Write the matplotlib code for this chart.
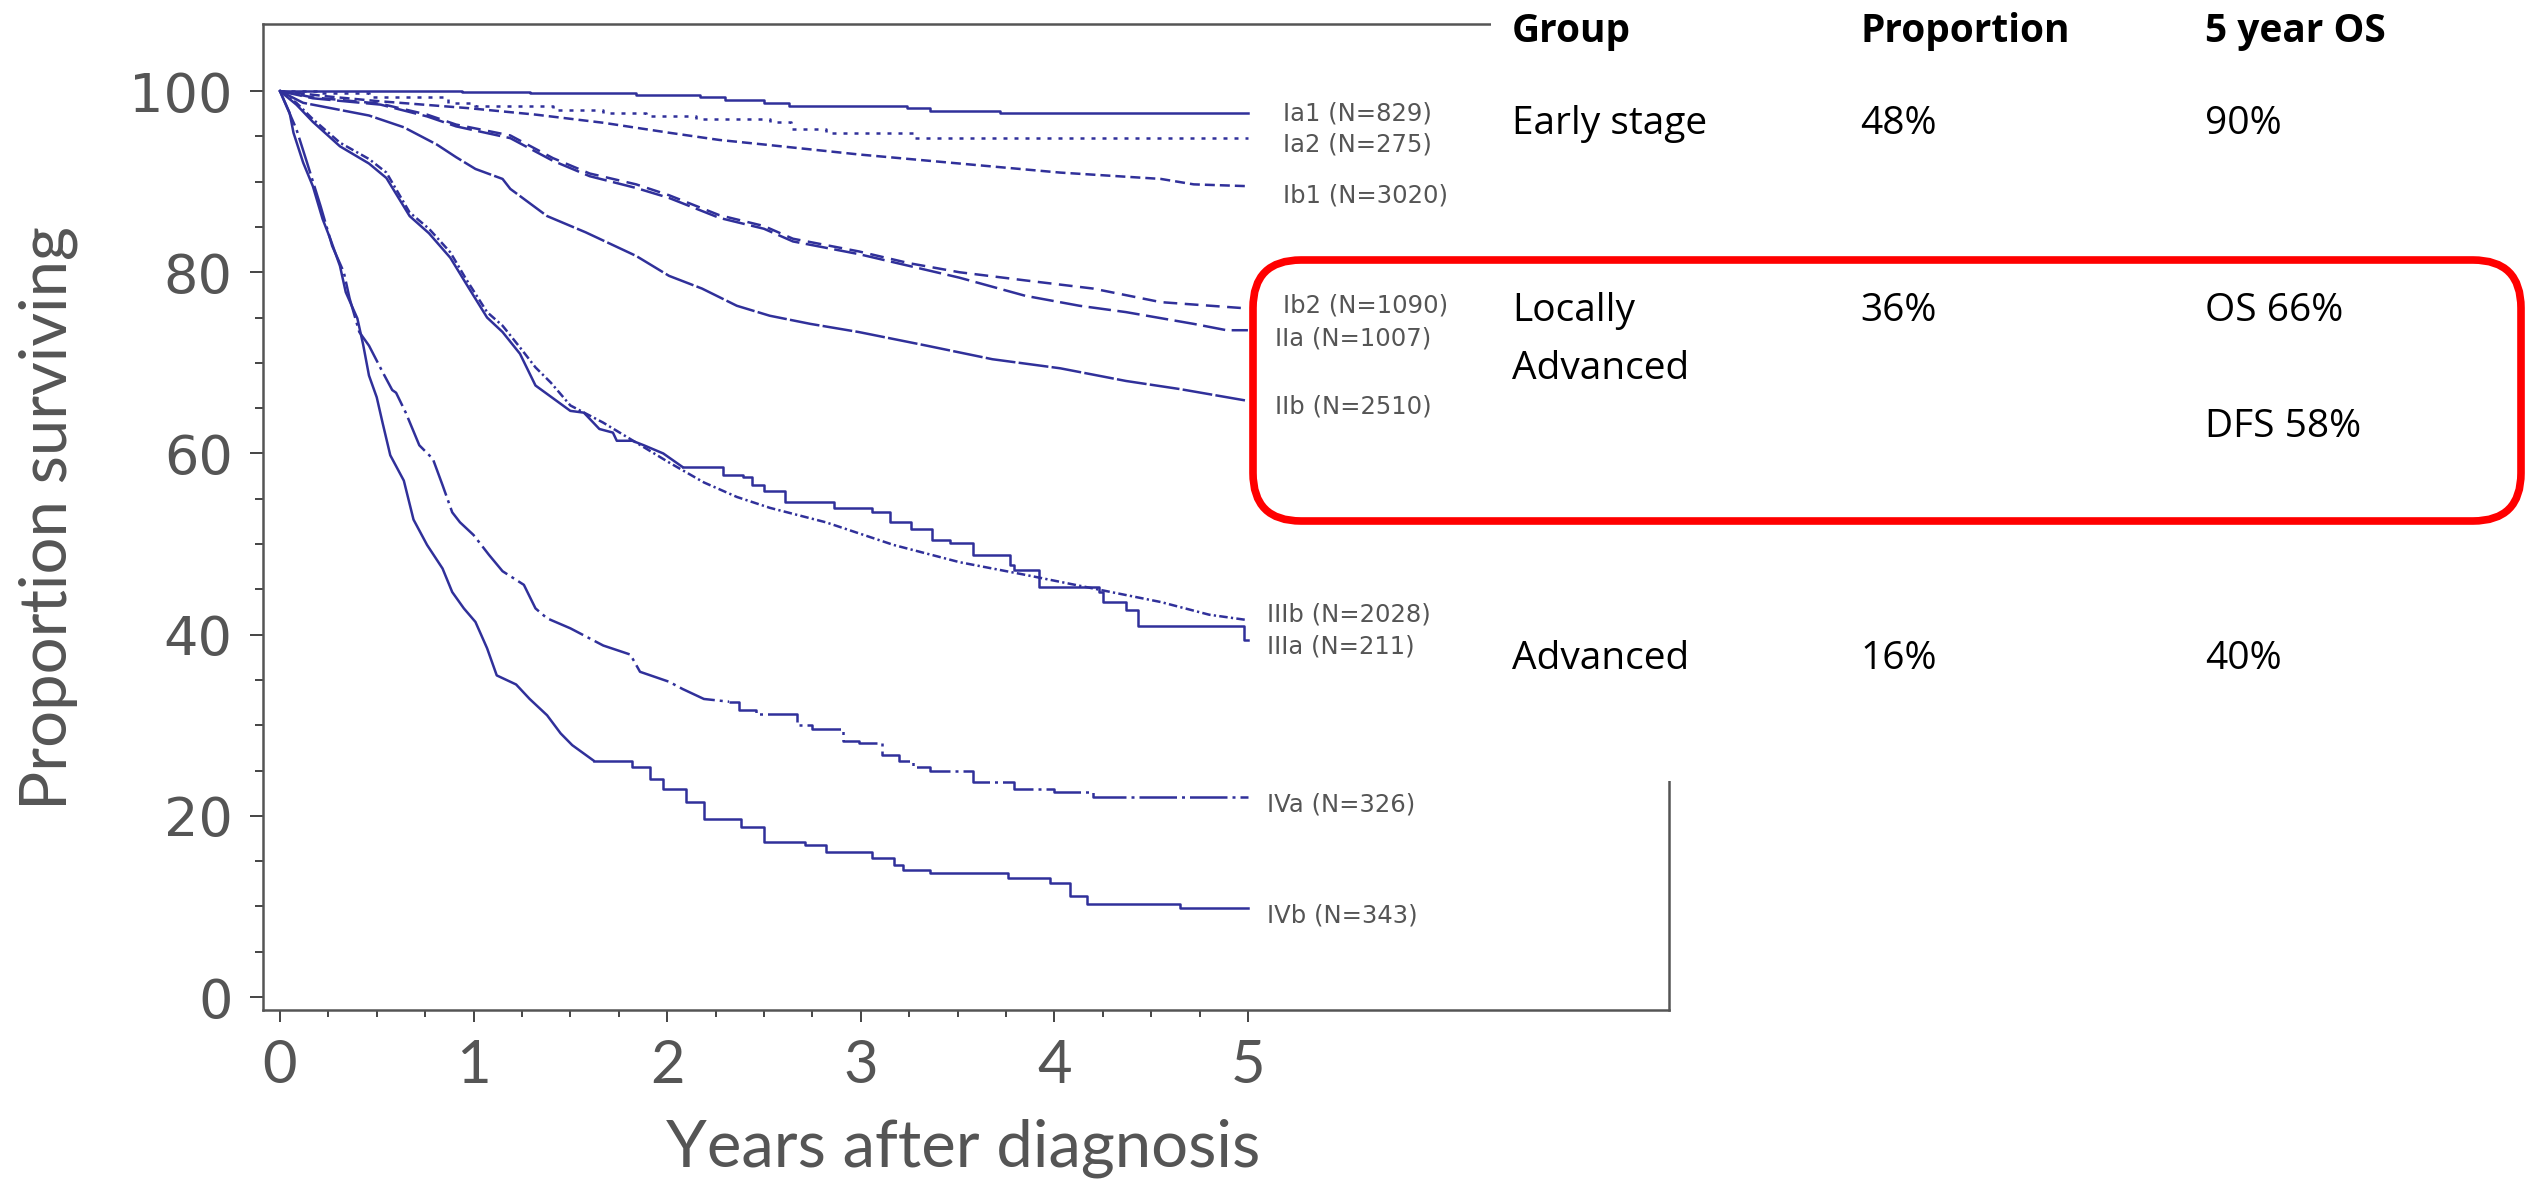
import numpy as np
import matplotlib
matplotlib.use("Agg")
import matplotlib.pyplot as plt
from matplotlib.patches import Rectangle, FancyBboxPatch
from matplotlib.transforms import Affine2D

# Kaplan-Meier curves by FIGO stage, years vs % surviving
ia1_t = [0, 0.94, 1.29, 1.84, 2.17, 2.30, 2.50, 2.63, 3.24, 3.36, 3.72, 5.0]
ia1_s = [100, 99.9, 99.75, 99.6, 99.3, 99.0, 98.7, 98.4, 98.1, 97.8, 97.6, 97.6]

ia2_t = [0, 0.20, 0.46, 0.87, 1.01, 1.41, 1.67, 1.89, 2.15, 2.53, 2.64, 2.82, 3.27, 5.0]
ia2_s = [100, 99.8, 99.3, 98.7, 98.4, 97.9, 97.6, 97.3, 96.9, 96.6, 95.8, 95.4, 94.8, 94.8]

ib1_t = [0, 0.25, 0.50, 0.98, 1.32, 1.67, 2.01, 2.27, 2.50, 2.99, 3.51, 4.03, 4.55, 4.72, 5.0]
ib1_s = [100, 99.4, 98.9, 98.1, 97.4, 96.5, 95.4, 94.6, 94.1, 93.0, 92.0, 91.0, 90.3, 89.7, 89.5]

ib2_t = [0, 0.17, 0.52, 0.76, 0.91, 1.19, 1.41, 1.60, 1.84, 2.01, 2.27, 2.50, 2.65, 2.99,
         3.25, 3.51, 3.85, 4.20, 4.55, 5.0]
ib2_s = [100, 99.3, 98.6, 97.4, 96.3, 95.1, 92.6, 90.9, 89.7, 88.5, 86.3, 85.1, 83.7, 82.3,
         81.0, 80.0, 79.1, 78.2, 76.7, 76.0]

iia_t = [0, 0.17, 0.52, 0.76, 0.91, 1.19, 1.41, 1.60, 1.84, 2.01, 2.27, 2.50, 2.65, 2.99,
         3.25, 3.51, 3.85, 4.13, 4.37, 4.72, 4.89, 5.0]
iia_s = [100, 99.2, 98.5, 97.2, 96.1, 94.8, 92.3, 90.6, 89.3, 88.2, 86.0, 84.8, 83.4, 82.0,
         80.7, 79.4, 77.4, 76.3, 75.6, 74.3, 73.6, 73.6]

iib_t = [0, 0.12, 0.29, 0.46, 0.64, 0.81, 0.91, 1.01, 1.15, 1.19, 1.38, 1.58, 1.84, 2.01,
         2.18, 2.36, 2.53, 2.74, 2.99, 3.34, 3.68, 4.03, 4.37, 4.65, 5.0]
iib_s = [100, 98.7, 98.0, 97.3, 96.0, 94.1, 92.7, 91.4, 90.3, 89.2, 86.2, 84.4, 81.8, 79.6,
         78.2, 76.3, 75.2, 74.3, 73.4, 71.9, 70.4, 69.4, 68.0, 67.1, 65.8]

iiib_t = [0, 0.085, 0.17, 0.31, 0.46, 0.55, 0.67, 0.77, 0.88, 0.96, 1.07, 1.15, 1.24, 1.32,
          1.40, 1.50, 1.67, 1.84, 2.01, 2.19, 2.36, 2.53, 2.82, 3.17, 3.51, 3.85, 4.20,
          4.55, 4.80, 5.0]
iiib_s = [100, 98.7, 96.9, 94.3, 92.5, 91.0, 86.6, 84.8, 82.2, 79.3, 75.6, 74.1, 71.7, 69.5,
          67.8, 65.3, 63.4, 61.2, 59.0, 56.8, 55.2, 54.0, 52.4, 49.9, 48.0, 46.6, 45.1,
          43.6, 42.2, 41.6]

# dense early part drawn as a line, sparse later part as steps
iiia_t = [0, 0.085, 0.17, 0.31, 0.46, 0.55, 0.67, 0.77, 0.88, 0.96, 1.07, 1.15, 1.24, 1.32,
          1.50, 1.57, 1.65, 1.72, 1.74, 1.82, 1.88, 1.98, 2.08]
iiia_s = [100, 98.5, 96.6, 93.9, 92.0, 90.4, 86.2, 84.3, 81.6, 78.8, 75.0, 73.4, 71.0, 67.5,
          64.7, 64.5, 62.7, 62.3, 61.4, 61.4, 60.9, 60.0, 58.5]
iiia_late_t = [2.08, 2.29, 2.39, 2.44, 2.50, 2.61, 2.86, 3.06, 3.15, 3.26, 3.37, 3.46, 3.58,
               3.77, 3.79, 3.92, 4.23, 4.25, 4.37, 4.43, 4.98, 5.0]
iiia_late_s = [58.5, 57.6, 57.4, 56.5, 55.8, 54.6, 54.0, 53.5, 52.4, 51.7, 50.4, 50.1, 48.8,
               47.7, 47.1, 45.3, 44.7, 43.6, 42.7, 40.9, 39.4, 39.4]

iva_t = [0, 0.085, 0.14, 0.21, 0.27, 0.33, 0.36, 0.41, 0.46, 0.53, 0.58, 0.60, 0.65, 0.72,
         0.79, 0.84, 0.89, 0.93, 1.00, 1.08, 1.15, 1.26, 1.32, 1.38, 1.50, 1.67, 1.81, 1.86,
         2.01, 2.08, 2.19, 2.32]
iva_s = [100, 95.8, 92.1, 87.3, 82.9, 80.0, 77.1, 73.4, 71.9, 69.0, 67.0, 66.7, 64.5, 60.9,
         59.4, 56.5, 53.5, 52.4, 51.0, 48.8, 47.0, 45.5, 42.9, 41.8, 40.7, 38.8, 37.8, 35.9,
         34.8, 34.0, 32.9, 32.6]
iva_late_t = [2.32, 2.37, 2.46, 2.67, 2.75, 2.91, 2.99, 3.11, 3.20, 3.27, 3.36, 3.58, 3.79,
              4.00, 4.20, 5.0]
iva_late_s = [32.6, 31.7, 31.2, 30.0, 29.6, 28.3, 28.0, 26.7, 26.0, 25.4, 24.9, 23.7, 23.0,
              22.6, 22.1, 22.1]

ivb_t = [0, 0.05, 0.07, 0.12, 0.17, 0.22, 0.26, 0.31, 0.34, 0.40, 0.43, 0.46, 0.50, 0.53,
         0.57, 0.64, 0.69, 0.76, 0.84, 0.89, 0.95, 1.01, 1.07, 1.12, 1.22, 1.29, 1.38, 1.45,
         1.51, 1.62]
ivb_s = [100, 97.6, 95.4, 92.1, 89.5, 85.9, 83.7, 80.7, 77.8, 74.9, 72.0, 68.6, 66.2, 63.4,
         59.8, 57.0, 52.7, 49.9, 47.3, 44.7, 42.9, 41.4, 38.5, 35.5, 34.5, 32.9, 31.1, 29.1,
         27.8, 26.1]
ivb_late_t = [1.62, 1.82, 1.91, 1.98, 2.10, 2.19, 2.38, 2.50, 2.71, 2.82, 3.06, 3.17, 3.22,
              3.36, 3.76, 3.98, 4.08, 4.17, 4.65, 5.0]
ivb_late_s = [26.1, 25.4, 24.1, 23.0, 21.5, 19.7, 18.8, 17.1, 16.8, 16.0, 15.3, 14.6, 14.0,
              13.7, 13.1, 12.6, 11.1, 10.3, 9.8, 9.8]

# curve labels at the right end
stage_labels = ["Ia1 (N=829)", "Ia2 (N=275)", "Ib1 (N=3020)", "Ib2 (N=1090)", "IIa (N=1007)",
                "IIb (N=2510)", "IIIb (N=2028)", "IIIa (N=211)", "IVa (N=326)", "IVb (N=343)"]
label_x = [5.18, 5.18, 5.18, 5.18, 5.14, 5.14, 5.10, 5.10, 5.10, 5.10]
label_y = [97.5, 94.1, 88.5, 76.3, 72.7, 65.2, 42.2, 38.7, 21.2, 9.0]

x_ticks = [0, 1, 2, 3, 4, 5]
y_ticks = [0, 20, 40, 60, 80, 100]

# summary table on the right
headers = ["Group", "Proportion", "5 year OS"]
group_col = [["Early stage"], ["Locally", "Advanced"], ["Advanced"]]
prop_col = [["48%"], ["36%"], ["16%"]]
os_col = [["90%"], ["OS 66%", "", "DFS 58%"], ["40%"]]

W, H = 2526, 1182
blue = "#30309a"

fig = plt.figure(figsize=(W / 100, H / 100), dpi=100)
# pixel coords measured from the top-left corner of the image
px = Affine2D().scale(1 / W, -1 / H).translate(0, 1) + fig.transFigure

ax = fig.add_axes([262.5 / W, 1 - 1010 / H, (1669 - 262.5) / W, (1010 - 24) / H])
ax.set_xlim(-0.09, 7.175)
ax.set_ylim(-1.43, 107.4)


def curve(t, s, ls, steps=False):
    ax.plot(t, s, color=blue, lw=1.8, ls=ls,
            drawstyle="steps-post" if steps else "default")


curve(ia1_t, ia1_s, "-", steps=True)
curve(ia2_t, ia2_s, (0, (1.6, 2.8)), steps=True)
curve(ib1_t, ib1_s, (0, (4, 2)))
curve(ib2_t, ib2_s, (0, (5.5, 3)))
curve(iia_t, iia_s, (0, (9, 2.6)))
curve(iib_t, iib_s, (0, (12, 1.3)))
curve(iiia_t, iiia_s, "-")
curve(iiia_late_t, iiia_late_s, "-", steps=True)
curve(iiib_t, iiib_s, (0, (3.4, 1.3, 0.9, 1.3)))
curve(iva_t, iva_s, (0, (15, 2, 1.2, 2)))
curve(iva_late_t, iva_late_s, (0, (15, 2, 1.2, 2)), steps=True)
curve(ivb_t, ivb_s, "-")
curve(ivb_late_t, ivb_late_s, "-", steps=True)

for lx, ly, lab in zip(label_x, label_y, stage_labels):
    ax.text(lx, ly, lab, fontsize=17.5, color="#555555", va="center", ha="left",
            family="DejaVu Sans")

for sp in ax.spines.values():
    sp.set_color("#555555")
    sp.set_linewidth(1.8)

ax.set_xticks(x_ticks, labels=[str(v) for v in x_ticks], fontfamily="Lato")
ax.set_xticks(np.arange(0, 5.01, 0.25), minor=True)
ax.set_yticks(y_ticks, labels=[str(v) for v in y_ticks], fontfamily="DejaVu Sans")
ax.set_yticks(np.arange(0, 101, 5), minor=True)
ax.tick_params(axis="both", which="both", direction="out", color="#444444", width=1.4)
ax.tick_params(axis="y", which="major", length=9.4, pad=12, labelsize=39,
               labelcolor="#555555")
ax.tick_params(axis="y", which="minor", length=5.8)
ax.tick_params(axis="x", which="major", length=8.6, pad=12, labelsize=43,
               labelcolor="#555555")
ax.tick_params(axis="x", which="minor", length=5)

ax.set_ylabel("Proportion surviving", fontsize=47, family="Lato", color="#555555")
ax.yaxis.set_label_coords(78, 518, transform=px)
ax.set_xlabel("Years after diagnosis", fontsize=47, family="Lato", color="#555555")
ax.xaxis.set_label_coords(963, 1118, transform=px)

# the table sits on a white panel that hides the upper right of the frame
fig.add_artist(Rectangle((1491, 0), W - 1491, 781, transform=px, facecolor="white",
                         edgecolor="none", zorder=2))

col_x = [1512, 1860, 2205]
for cx, head in zip(col_x, headers):
    fig.text(cx, 42, head, transform=px, fontsize=28, fontweight="bold",
             family="Open Sans", va="baseline", ha="left", color="black")

row_base = [134, 321, 669]
line_step = 58
for cx, col in zip(col_x, [group_col, prop_col, os_col]):
    for rb, cell in zip(row_base, col):
        for k, line in enumerate(cell):
            fig.text(cx, rb + k * line_step, line, transform=px, fontsize=28,
                     family="Open Sans", va="baseline", ha="left", color="black")

fig.add_artist(FancyBboxPatch((1253, 260), 2521 - 1253, 521 - 260,
                              boxstyle="round,pad=0,rounding_size=48", transform=px,
                              fill=False, edgecolor="#ff0000", lw=5.5, zorder=4))

fig.savefig("out.png", dpi=100)
